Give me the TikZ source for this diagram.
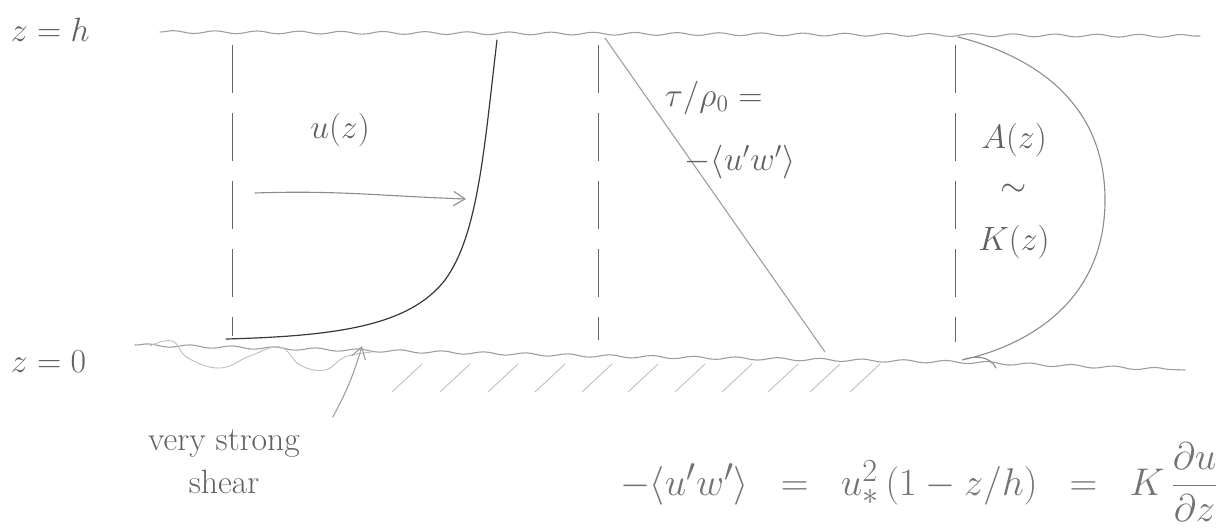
\documentclass[tikz,border=0pt]{standalone}
\usepackage{amsmath,amssymb}
\usepackage{xcolor}
\usetikzlibrary{arrows.meta,positioning,decorations.pathmorphing}

\begin{document}
\begin{tikzpicture}[
  x=1pt, y=-1pt,
  >={Straight Barb[length=4mm,width=5mm]},
  pencil/.style={draw=black!38, line width=1.1pt, line cap=round},
  dark/.style={draw=black!78, line width=1.2pt, line cap=round},
  guide/.style={draw=black!60, line width=1pt, dash pattern=on 48pt off 20pt},
  wave/.style={pencil, decorate, decoration={snake, amplitude=1.4pt, segment length=42pt}},
  lbl/.style={text=black!62, font=\LARGE, scale=1.95},
  big/.style={text=black!55, font=\Huge, scale=1.55},
]
\useasboundingbox (0,0) rectangle (1222,527);

% surface and bed
\draw[wave] (160,32) -- (1200,36);
\draw[wave] (135,345) -- (600,356) -- (960,362) -- (1185,370);

% rough bed below
\draw[pencil, black!25, line width=0.9pt] plot[smooth, tension=0.7] coordinates {
  (150,346) (172,341) (188,358) (220,368) (250,356) (280,347) (300,365)
  (325,370) (345,357) (372,352)};
\foreach \x in {392,440,488,535,582,628,675,722,768,810,850}
  \draw[pencil, black!25, line width=0.9pt] (\x,392) -- (\x+30,364);

% panel 1: velocity
\draw[guide] (232,45) -- (232,336);
\draw[dark] (226,339) .. controls (340,336) and (410,325) .. (445,280)
  .. controls (478,235) and (484,150) .. (497,40);
\coordinate (uhead) at (466,199);
\coordinate (utail) at (255,193);
\draw[pencil, black!45, ->] (utail) to[out=2, in=178] (uhead);
\node[lbl] (ulbl) at (340,130) {$u(z)$};

% panel 2: stress
\draw[guide] (598,45) -- (598,340);
\coordinate (ttop) at (605,38);
\coordinate (tbot) at (825,352);
\draw[pencil] (ttop) -- (tbot);
\node[lbl, anchor=west] (tau) at (658,98) {$\tau/\rho_0 =$};
\node[lbl] (flux) at (740,162) {$-\langle u'w'\rangle$};

% panel 3: diffusivity
\draw[guide] (955,45) -- (955,342);
\draw[pencil, black!45] (958,37) .. controls (1030,55) and (1105,100) .. (1105,200)
  .. controls (1105,300) and (1030,345) .. (962,360)
  .. controls (975,355) and (990,356) .. (996,368);
\node[lbl] (A) at (1014,140) {$A(z)$};
\node[lbl] (sim) at (1014,190) {$\sim$};
\node[lbl] (K) at (1014,242) {$K(z)$};

% axis labels
\node[lbl, anchor=west] (zh) at (4,30) {$z = h$};
\node[lbl, anchor=west] (z0) at (4,362) {$z = 0$};

% shear note
\node[lbl, align=center] (shear) at (224,462) {very strong\\shear};
\coordinate (bed) at (362,346);
\draw[pencil, ->] (shear.north east) ++(26,-6) to[bend right=6] (bed);

% closure
\node[big, anchor=east, inner sep=1pt] (eq) at (1220,482)
  {$-\langle u'w'\rangle \;\;=\;\; u_{*}^{2}\,(1 - z/h) \;\;=\;\; K\,\dfrac{\partial u}{\partial z}$};
\end{tikzpicture}
\end{document}
